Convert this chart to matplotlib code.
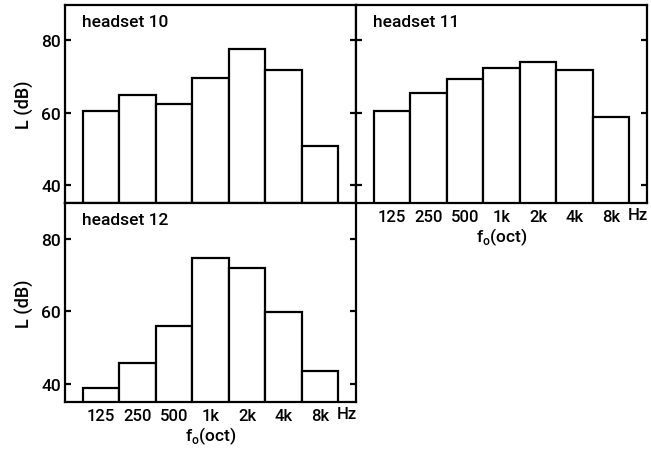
import matplotlib
matplotlib.use("Agg")
import matplotlib.pyplot as plt
import numpy as np

# Octave-band levels per headset
bands = ["125", "250", "500", "1k", "2k", "4k", "8k"]
headset_10 = [60.4, 65.0, 62.4, 69.6, 77.5, 71.9, 50.9]
headset_11 = [60.6, 65.5, 69.4, 72.4, 74.0, 71.7, 58.7]
headset_12 = [39.0, 45.9, 55.9, 74.8, 72.0, 59.7, 43.6]
titles = ["headset 10", "headset 11", "headset 12"]
y_ticks = [40, 60, 80]

plt.rcParams["font.family"] = ["Roboto", "DejaVu Sans"]
plt.rcParams["font.weight"] = "medium"
plt.rcParams["axes.labelweight"] = "medium"
plt.rcParams["mathtext.fontset"] = "custom"
plt.rcParams["mathtext.rm"] = "Roboto:medium"

fig = plt.figure(figsize=(6.51, 4.52), dpi=100)
W, H = 651.0, 452.0
aw = 291 / W
ax_tl = fig.add_axes([65 / W, 248 / H, aw, 198 / H])
ax_tr = fig.add_axes([356 / W, 248 / H, aw, 198 / H])
ax_bl = fig.add_axes([65 / W, 48.7 / H, aw, 199.3 / H])

lw = 1.6
x = np.arange(len(bands))


def draw(ax, values, title, ylabels, xlabels):
    ax.bar(x, values, width=1.0, bottom=0, facecolor="white",
           edgecolor="black", linewidth=lw)
    ax.set_xlim(-0.98, 6.98)
    ax.set_ylim(35, 89.8)
    for s in ax.spines.values():
        s.set_linewidth(lw)
    ax.set_yticks(y_ticks)
    ax.tick_params(axis="y", direction="in", length=4, width=lw,
                   left=True, right=True, labelsize=12.5, pad=3)
    if not ylabels:
        ax.set_yticklabels([])
    else:
        ax.set_ylabel("L (dB)", fontsize=13, labelpad=5)
    ax.set_xticks(x)
    ax.tick_params(axis="x", length=0, pad=4, labelsize=12)
    if xlabels:
        ax.set_xticklabels(bands)
        ax.annotate("Hz", xy=(6.72, 0), xycoords=("data", "axes fraction"),
                    xytext=(0, -4 * 72 / 100), textcoords="offset points",
                    ha="center", va="top", fontsize=12)
        ax.set_xlabel(r"f$_\mathrm{o}$(oct)", fontsize=12.5, labelpad=1)
    else:
        ax.set_xticklabels([])
    ax.text(0.058, 0.955, title, transform=ax.transAxes, ha="left",
            va="top", fontsize=12.5)


draw(ax_tl, headset_10, titles[0], True, False)
draw(ax_tr, headset_11, titles[1], False, True)
draw(ax_bl, headset_12, titles[2], True, True)

fig.savefig("out.png", dpi=100)
